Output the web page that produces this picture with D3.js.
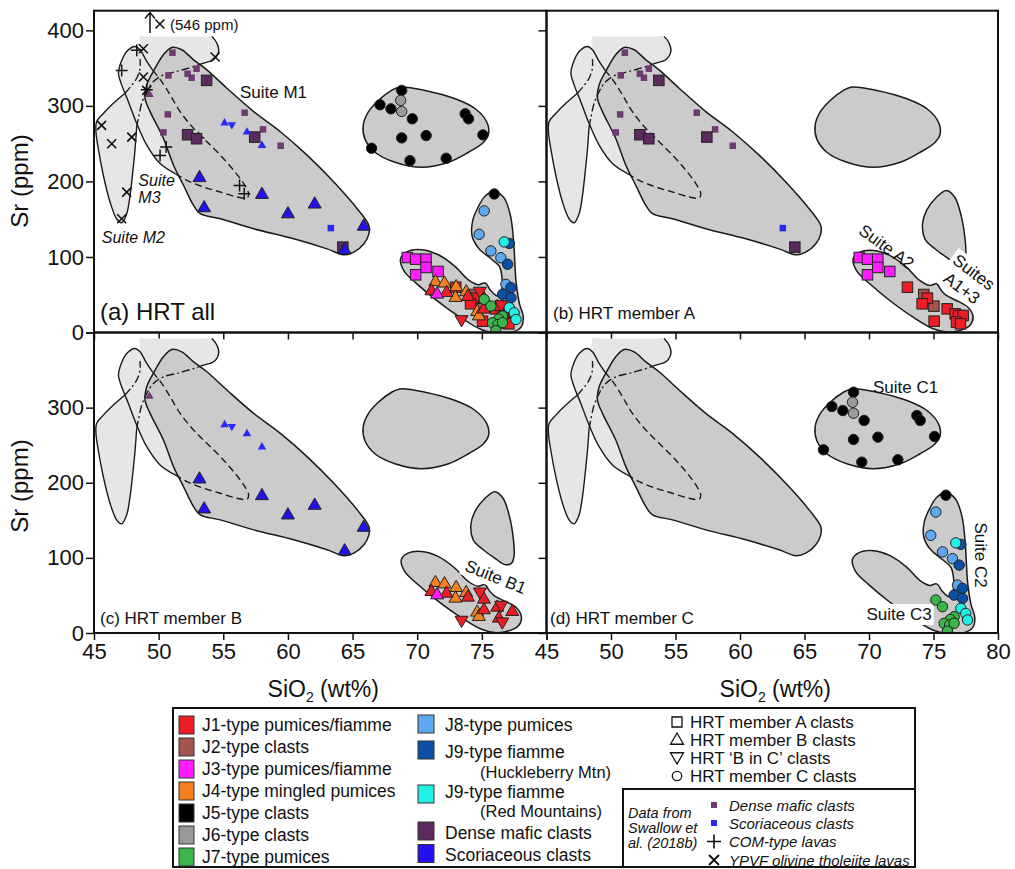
<!DOCTYPE html>
<html><head><meta charset="utf-8">
<script src="https://cdn.jsdelivr.net/npm/d3@7"></script>
<style>
body{margin:0;background:#fff}
svg{display:block}
text{font-family:"Liberation Sans",Arial,Helvetica,sans-serif;fill:#111}
</style>
</head><body>
<svg id="chart" width="1015" height="869"></svg>
<script>
// ---------------- DATA ----------------
const xTickValues = [45,50,55,60,65,70,75,80];
const yTickValues = [0,100,200,300,400];

// Fields (SiO2 wt%, Sr ppm)
const fieldM2 = [[45.20,279],[45.72,290],[46.50,303.4],[47.40,316.7],[47.84,325.6],[48.30,336.6],[48.56,350],[48.56,362],[48.56,380],[48.56,392],[49.0,392],[53.6,392],[54.12,392],[54.51,383],[54.64,372],[54.25,361],[53.47,356.6],[52.70,352],[51.41,345.6],[50.37,341],[49.60,332.2],[49.08,319],[48.69,303.4],[48.43,283.5],[48.30,270.2],[48.18,243.6],[48.00,212.6],[47.79,181.6],[47.53,157.3],[47.14,145.3],[46.75,150.6],[46.24,172.8],[45.72,208.2],[45.33,243.6],[45.15,265.8]];
const fieldM3 = [[48.18,378.7],[48.56,374.3],[49.08,358.8],[49.73,343.3],[50.24,332.2],[50.89,314.5],[51.66,292.4],[52.70,270.2],[53.73,252.5],[54.77,234.8],[55.80,214.8],[56.58,197.1],[56.96,183.8],[56.84,178.1],[56.06,179.4],[54.77,186],[53.47,192.7],[52.18,201.5],[51.28,210.4],[50.11,223.7],[49.08,248],[48.30,276.9],[47.66,305.6],[47.14,327.8],[46.89,343.3],[47.02,354.4],[47.53,372]];
const fieldM1 = [[51.02,377.4],[51.79,374.3],[52.70,361],[53.73,347.7],[55.28,323.4],[57.35,292.4],[59.42,265.8],[61.48,234.8],[63.55,199.3],[65.36,163.9],[66.26,141.7],[66.26,130.6],[65.88,117.4],[65.10,106.3],[64.33,102.8],[63.03,110.7],[60.45,124],[57.35,137.3],[54.77,150.6],[53.22,157.3],[52.70,168.3],[51.92,194.9],[51.15,221.5],[50.37,256.9],[49.34,292.4],[48.95,310],[49.08,327.8],[49.73,350],[50.37,367.7]];
const fieldC1 = [[68.67,324.9],[70.61,320.5],[72.94,309.4],[74.49,296.2],[75.39,278.4],[75.52,263],[75.13,251.9],[73.97,238.6],[72.42,225.3],[70.35,218.7],[68.28,225.3],[66.73,238.6],[65.95,256.3],[65.82,274],[66.21,291.7],[66.99,307.2],[68.02,320.5]];
const fieldAB = [[68.77,97.6],[69.29,106.4],[70.32,108.6],[71.61,102],[72.90,86.5],[73.93,68.9],[74.71,62.3],[75.23,64.5],[75.61,55.6],[76.0,49],[76.78,42.4],[77.68,33.5],[78.07,20.3],[77.81,9.3],[77.04,2.6],[76.0,0.6],[74.97,4.9],[73.42,20.3],[71.61,42.4],[70.06,64.5],[69.03,82]];
const tongueShort = [[76.0,188],[76.65,179],[77.17,152.7],[77.43,126],[77.5,104],[77.3,93],[76.78,91],[76.0,99.7],[75.1,110.8],[74.33,124],[74.15,144],[74.46,161.6],[75.23,179]];
const tongueLong = [[75.96,186],[76.65,178],[77.15,155],[77.4,120],[77.5,90],[77.6,65],[77.85,38],[78.15,20],[78.0,8],[77.4,1.5],[76.5,0.3],[75.95,2],[75.95,25],[76.3,45],[76.6,57],[76.6,75],[76.4,88],[75.7,99],[74.8,112],[74.3,128],[74.35,148],[74.75,165],[75.3,180]];

// Field boundary lines
const lineM2solidA = [[48.30,272],[48.18,243.6],[48.00,212.6],[47.79,181.6],[47.53,157.3],[47.14,145.3],[46.75,150.6],[46.24,172.8],[45.72,208.2],[45.33,243.6],[45.15,265.8],[45.20,279],[45.72,290],[46.50,303.4],[47.40,316.7]];
const lineM2solidB = [[53.2,355],[53.47,356.6],[54.25,361],[54.64,372],[54.51,383],[54.12,392]];
const lineM2dashdotA = [[48.30,272],[48.43,283.5],[48.69,303.4],[49.08,319],[49.60,332.2],[50.37,341],[51.41,345.6],[52.70,352],[53.2,355]];
const lineM2dashdotB = [[47.40,316.7],[47.84,325.6],[48.30,336.6],[48.56,350],[48.56,362]];
const lineM3solid = [[51.28,210.4],[50.11,223.7],[49.08,248],[48.30,276.9],[47.66,305.6],[47.14,327.8],[46.89,343.3],[47.02,354.4],[47.53,372],[48.18,378.7],[48.56,374.3],[49.08,358.8],[49.55,347]];
const lineM3dashed = [[49.55,347],[49.73,343.3],[50.24,332.2],[50.89,314.5],[51.66,292.4],[52.70,270.2],[53.73,252.5],[54.77,234.8],[55.80,214.8],[56.58,197.1],[56.96,183.8],[56.84,178.1],[56.06,179.4],[54.77,186],[53.47,192.7],[52.18,201.5],[51.28,210.4]];

// HRT member A clasts (squares)
const aJ1 = [[72.98,60],[74.53,45.5],[74.12,38],[75.05,15],[76.06,31.3],[76.68,24.7],[76.94,22.5],[77.30,22.5],[76.78,13.7],[77.09,11.5]];
const aJ2 = [[74.25,50.3],[75.03,34.9]];
const aJ3 = [[69.24,99.3],[69.88,97.1],[70.68,97.1],[70.68,86.1],[69.88,76.4],[71.61,80.8]];
const aDense = [[53.71,333.8],[52.24,261.8],[52.93,256.5],[57.43,258.7],[64.25,113]];
// Swallow et al. (2018b) small squares
const swDense = [[51.07,370.4],[50.76,340.4],[52.24,342.6],[52.55,337.3],[52.93,349.2],[50.71,288.7],[50.37,264.9],[56.65,291],[58.07,268.9],[59.44,247.2]];
const swScoria = [[63.32,138.2]];

// HRT member B clasts (triangles)
const bJ4 = [[71.41,66.9],[72.11,65.1],[73.01,60.2],[73.79,53.6],[72.96,46.1],[74.64,27.5],[74.77,21.7]];
const bJ1 = [[71.10,54.9],[72.27,52.7],[73.92,47.4],[75.16,44.7],[76.19,34.1],[77.35,28.3],[76.32,19.5],[75.16,30.6]];
const bJ3 = [[71.54,50.5]];
const bScoria = [[53.16,204.7],[53.52,164.8],[57.99,182.5],[60.00,156.8],[62.07,169.7],[65.86,140.4],[64.39,109]];
const smallTriDense = [[49.29,315]];
const smallTriScoria = [[55.10,277.3],[56.83,265.3],[57.99,247.6]];
const smallTriScoriaDown = [[55.66,275.1]];
// HRT 'B in C' clasts (down triangles)
const bcJ1 = [[74.85,54.9],[73.43,17.3],[76.50,37.2],[76.58,15.1]];

// HRT member C clasts (circles)
const cJ5 = [[68.80,320.5],[67.12,301.5],[67.97,296.1],[69.62,282.9],[73.71,289.5],[73.97,282.9],[70.69,260.7],[68.80,257.6],[75.08,261.6],[66.47,243.9],[69.44,227.5],[72.24,230.6],[75.96,183.4]];
const cJ6 = [[68.72,307.2],[68.80,292.6]];
const cJ8 = [[75.18,161],[74.79,130],[75.7,108],[76.47,99],[76.86,63.8]];
const cJ9H = [[77.12,118],[76.99,90.4],[77.25,59.4],[76.6,50.5],[77.25,46]];
const cJ9R = [[76.73,120],[77.12,32.8],[77.5,26],[77.64,17.3]];
const cJ7 = [[75.18,43.9],[75.7,35],[76.6,21.7],[76.3,18],[75.82,12.9],[76.25,10.6],[76.6,13],[76.08,2.5]];

// Swallow et al. lavas
const lavaCOM = [[47.14,347],[48.31,373.5],[49.08,321.4],[50.58,245.5],[50.11,234.4],[53.08,257.8],[56.26,194.7],[56.62,183.7]];
const lavaYPVF = [[45.59,274.2],[46.37,249.9],[47.92,258.7],[47.53,185.9],[47.14,150.6],[48.82,375.7],[48.82,338.2],[49.08,320.5],[54.37,364.7]];
const lavaOffscale = [[50.1,408.4]]; // 546 ppm sample

// Legend entries
const legendCol1 = ["J1-type pumices/fiamme","J2-type clasts","J3-type pumices/fiamme","J4-type mingled pumices","J5-type clasts","J6-type clasts","J7-type pumices"];
const legendCol2 = ["J8-type pumices","J9-type fiamme","J9-type fiamme","Dense mafic clasts","Scoriaceous clasts"];
const legendShapes = ["HRT member A clasts","HRT member B clasts","HRT \u2018B in C\u2019 clasts","HRT member C clasts"];
const legendSwallow = ["Dense mafic clasts","Scoriaceous clasts","COM-type lavas","YPVF olivine tholeiite lavas"];

// ---------------- STYLE ----------------
const COL = {J1:'#ee1c24',J2:'#a5534f',J3:'#ff1cff',J4:'#f5801f',J5:'#000000',J6:'#9a9a9a',J7:'#3bb54a',
  J8:'#5ea8f0',J9H:'#0b4fa6',J9R:'#22f0e6',Dense:'#5b2b5d',Scoria:'#2412ee',swDense:'#6e3b70',swScoria:'#2a28f4'};
const LIGHT = '#e6e6e6', DARK = '#cbcbcb', OUT = '#1a1a1a';
const FONT = '"Liberation Sans",Arial,Helvetica,sans-serif';

const svg = d3.select('#chart');
const defs = svg.append('defs');

const panels = [
  {key:'a', x0:94, x1:546.5, yTop:10.7, yBot:332.5, yMax:426},
  {key:'b', x0:546.5, x1:998, yTop:10.7, yBot:332.5, yMax:426},
  {key:'c', x0:94, x1:546.5, yTop:332.5, yBot:633, yMax:400},
  {key:'d', x0:546.5, x1:998, yTop:332.5, yBot:633, yMax:400}
];

panels.forEach(p => {
  p.x = d3.scaleLinear().domain([45,80]).range([p.x0,p.x1]);
  p.y = d3.scaleLinear().domain([0,p.yMax]).range([p.yBot,p.yTop]);
  defs.append('clipPath').attr('id','clip-'+p.key).append('rect')
    .attr('x',p.x0).attr('y',p.yTop).attr('width',p.x1-p.x0).attr('height',p.yBot-p.yTop);
  p.g = svg.append('g');
  p.body = p.g.append('g').attr('clip-path',`url(#clip-${p.key})`);
});

function closedPath(p, pts){
  return d3.line().x(d=>p.x(d[0])).y(d=>p.y(d[1])).curve(d3.curveCatmullRomClosed.alpha(0.5))(pts);
}
function openPath(p, pts){
  return d3.line().x(d=>p.x(d[0])).y(d=>p.y(d[1])).curve(d3.curveCatmullRom.alpha(0.5))(pts);
}

function drawLeftFields(p){
  const b = p.body;
  b.append('path').attr('d',closedPath(p,fieldM2)).attr('fill',LIGHT).attr('stroke','none');
  b.append('path').attr('d',closedPath(p,fieldM3)).attr('fill',LIGHT).attr('stroke','none');
  b.append('path').attr('d',closedPath(p,fieldM1)).attr('fill',DARK).attr('stroke',OUT).attr('stroke-width',1.5);
  const ln = (pts,dash) => b.append('path').attr('d',openPath(p,pts)).attr('fill','none')
    .attr('stroke',OUT).attr('stroke-width',1.4).attr('stroke-dasharray',dash||null);
  ln(lineM2solidA); ln(lineM2solidB);
  ln(lineM2dashdotA,'8,3,2,3'); ln(lineM2dashdotB,'8,3,2,3');
  ln(lineM3solid); ln(lineM3dashed,'7,4');
  b.append('path').attr('d',closedPath(p,fieldC1)).attr('fill',DARK).attr('stroke',OUT).attr('stroke-width',1.5);
}
function drawSeparate(p, polys){
  polys.forEach(pts => p.body.append('path').attr('d',closedPath(p,pts))
    .attr('fill',DARK).attr('stroke',OUT).attr('stroke-width',1.5));
}
function drawUnion(p, polys){
  polys.forEach(pts => p.body.append('path').attr('d',closedPath(p,pts))
    .attr('fill','none').attr('stroke',OUT).attr('stroke-width',3));
  polys.forEach(pts => p.body.append('path').attr('d',closedPath(p,pts))
    .attr('fill',DARK).attr('stroke','none'));
}

// ------- markers -------
function triPath(cx,cy,s,down){
  const h = s*0.866;
  if(!down) return `M${cx},${cy-2*h/3}L${cx-s/2},${cy+h/3}L${cx+s/2},${cy+h/3}Z`;
  return `M${cx},${cy+2*h/3}L${cx-s/2},${cy-h/3}L${cx+s/2},${cy-h/3}Z`;
}
function squares(p,data,fill,size,stroke){
  p.body.append('g').selectAll('rect').data(data).join('rect')
    .attr('x',d=>p.x(d[0])-size/2).attr('y',d=>p.y(d[1])-size/2)
    .attr('width',size).attr('height',size).attr('fill',fill)
    .attr('stroke',stroke?'#222':'none').attr('stroke-width',1);
}
function triangles(p,data,fill,size,down,stroke){
  p.body.append('g').selectAll('path').data(data).join('path')
    .attr('d',d=>triPath(p.x(d[0]),p.y(d[1]),size,down)).attr('fill',fill)
    .attr('stroke',stroke?'#222':'none').attr('stroke-width',1).attr('stroke-linejoin','round');
}
function circles(p,data,fill){
  p.body.append('g').selectAll('circle').data(data).join('circle')
    .attr('cx',d=>p.x(d[0])).attr('cy',d=>p.y(d[1])).attr('r',5.2)
    .attr('fill',fill).attr('stroke','#222').attr('stroke-width',1);
}
function plusses(p,data){
  p.body.append('g').selectAll('path').data(data).join('path')
    .attr('d',d=>{const cx=p.x(d[0]),cy=p.y(d[1]);return `M${cx-6},${cy}H${cx+6}M${cx},${cy-6}V${cy+6}`;})
    .attr('stroke','#111').attr('stroke-width',1.5).attr('fill','none');
}
function crosses(p,data){
  p.body.append('g').selectAll('path').data(data).join('path')
    .attr('d',d=>{const cx=p.x(d[0]),cy=p.y(d[1]);return `M${cx-4.5},${cy-4.5}L${cx+4.5},${cy+4.5}M${cx-4.5},${cy+4.5}L${cx+4.5},${cy-4.5}`;})
    .attr('stroke','#111').attr('stroke-width',1.6).attr('fill','none');
}

function memberA(p){
  squares(p,swDense,COL.swDense,6.5,false);
  squares(p,swScoria,COL.swScoria,6.5,false);
  squares(p,aDense,COL.Dense,10.5,true);
  squares(p,aJ3,COL.J3,10.5,true);
  squares(p,aJ2,COL.J2,10.5,true);
  squares(p,aJ1,COL.J1,10.5,true);
}
function memberB(p){
  triangles(p,smallTriDense,COL.swDense,8.5,false,false);
  triangles(p,smallTriScoria,COL.swScoria,8.5,false,false);
  triangles(p,smallTriScoriaDown,COL.swScoria,8.5,true,false);
  triangles(p,bScoria,COL.Scoria,13,false,true);
  triangles(p,bJ4,COL.J4,13,false,true);
  triangles(p,bJ1,COL.J1,13,false,true);
  triangles(p,bJ3,COL.J3,13,false,true);
  triangles(p,bcJ1,COL.J1,13,true,true);
}
function memberC(p){
  circles(p,cJ5,COL.J5); circles(p,cJ6,COL.J6); circles(p,cJ8,COL.J8);
  circles(p,cJ9H,COL.J9H); circles(p,cJ9R,COL.J9R); circles(p,cJ7,COL.J7);
}

// ------- text helpers -------
function label(g, x, y, txt, size, opts){
  opts = opts||{};
  const t = g.append('text').attr('x',x).attr('y',y).attr('font-size',size).text(txt)
    .attr('text-anchor',opts.anchor||'start');
  if(opts.italic) t.attr('font-style','italic');
  return t;
}
function boxLabel(g, cx, cy, angle, lines, size, pad){
  const grp = g.append('g').attr('transform',`translate(${cx},${cy}) rotate(${angle})`);
  const rect = grp.append('rect').attr('fill','#fff');
  const t = grp.append('text').attr('font-size',size).attr('text-anchor','middle');
  lines.forEach(l => t.append('tspan').attr('x',0).attr('y',l[1]).text(l[0]));
  if(pad !== null){
    const bb = t.node().getBBox();
    rect.attr('x',bb.x-pad).attr('y',bb.y-1).attr('width',bb.width+2*pad).attr('height',bb.height+2);
  }
  return grp;
}

// ------- PANELS -------
const [pa,pb,pc,pd] = panels;

// (a) all
drawLeftFields(pa);
drawUnion(pa,[fieldAB,tongueLong]);
label(pa.body, pa.x(56.29), pa.y(310.4), 'Suite M1', 17);
label(pa.body, pa.x(45.6), pa.y(118.5), 'Suite M2', 16, {italic:true});
label(pa.body, pa.x(48.43), pa.y(194.5), 'Suite', 16, {italic:true});
label(pa.body, pa.x(48.43), pa.y(171.4), 'M3', 16, {italic:true});
label(pa.body, pa.x(50.88), pa.y(400.5), '(546 ppm)', 15);
pa.body.append('path')
  .attr('d',`M${pa.x(49.33)},${pa.y(396.5)}V${pa.y(423.5)}M${pa.x(49.33)-5},${pa.y(423.5)+6}L${pa.x(49.33)},${pa.y(423.5)}L${pa.x(49.33)+5},${pa.y(423.5)+6}`)
  .attr('stroke','#111').attr('stroke-width',1.5).attr('fill','none');
crosses(pa,lavaOffscale);
plusses(pa,lavaCOM); crosses(pa,lavaYPVF);
memberA(pa); memberB(pa); memberC(pa);

// (b) member A
drawLeftFields(pb);
drawSeparate(pb,[fieldAB,tongueShort]);
boxLabel(pb.body, pb.x(71.37), pb.y(113.6), 36, [['Suite A2',6]], 17, null);
boxLabel(pb.body, pb.x(77.62), pb.y(68.4), 37, [['Suites',-5],['A1+3',15]], 17, 3);
memberA(pb);

// (c) member B
drawLeftFields(pc);
drawSeparate(pc,[fieldAB,tongueShort]);
boxLabel(pc.body, pc.x(76.07), pc.y(74.9), 22, [['Suite B1',6]], 17, 3);
memberB(pc);

// (d) member C
drawLeftFields(pd);
drawUnion(pd,[fieldAB,tongueLong]);
label(pd.body, pd.x(70.31), pd.y(319.4), 'Suite C1', 17);
pd.body.append('text').attr('transform',`translate(${pd.x(78.22)},${pd.y(103.8)}) rotate(90)`)
  .attr('text-anchor','middle').attr('font-size',17).text('Suite C2');
boxLabel(pd.body, pd.x(72.33), pd.y(17.3), 0, [['Suite C3',0]], 17, 2);
memberC(pd);

// panel labels
label(pa.g, 100, 320, '(a) HRT all', 24);
label(pb.g, 553, 319, '(b) HRT member A', 17);
label(pc.g, 100, 624, '(c) HRT member B', 17);
label(pd.g, 550, 624, '(d) HRT member C', 17);

// ------- AXES & BORDERS -------
panels.forEach(p => {
  const showY = (p.key==='a' || p.key==='c');
  const showX = (p.key==='c' || p.key==='d');
  const yAx = d3.axisLeft(p.y).tickValues(yTickValues.filter(v=>v<=p.yMax)).tickSize(8).tickPadding(2)
    .tickFormat(v => (showY && !(p.key==='c' && v===400)) ? String(v) : '');
  const xAx = d3.axisBottom(p.x).tickValues(xTickValues).tickSize(7).tickPadding(3)
    .tickFormat(v => (showX && !(p.key==='c' && v===80)) ? String(v) : '');
  const gy = p.g.append('g').attr('transform',`translate(${p.x0},0)`).call(yAx);
  const gx = p.g.append('g').attr('transform',`translate(0,${p.yBot})`).call(xAx);
  [gy,gx].forEach(ax => {
    ax.select('.domain').remove();
    ax.selectAll('line').attr('stroke','#111').attr('stroke-width',1.5);
    ax.selectAll('text').attr('font-size',22).attr('font-family',FONT).attr('fill','#111');
  });
  p.g.append('rect').attr('x',p.x0).attr('y',p.yTop).attr('width',p.x1-p.x0).attr('height',p.yBot-p.yTop)
    .attr('fill','none').attr('stroke','#111').attr('stroke-width',2);
});

// axis titles
[[pa,181],[pc,486]].forEach(([p,cy]) => {
  svg.append('text').attr('transform',`translate(28,${cy}) rotate(-90)`)
    .attr('text-anchor','middle').attr('font-size',24).text('Sr (ppm)');
});
[pc,pd].forEach(p => {
  const t = svg.append('text').attr('x',(p.x0+p.x1)/2 + 3).attr('y',697).attr('text-anchor','middle').attr('font-size',23);
  t.append('tspan').text('SiO');
  t.append('tspan').attr('font-size',14).attr('dy',5).text('2');
  t.append('tspan').attr('dy',-5).text(' (wt%)');
});

// ------- LEGEND -------
const lg = svg.append('g');
lg.append('rect').attr('x',173).attr('y',708).attr('width',742).attr('height',159)
  .attr('fill','#fff').attr('stroke','#111').attr('stroke-width',2);
lg.append('rect').attr('x',623).attr('y',789).attr('width',292).attr('height',78)
  .attr('fill','none').attr('stroke','#111').attr('stroke-width',2);

const col1Colors = [COL.J1,COL.J2,COL.J3,COL.J4,COL.J5,COL.J6,COL.J7];
legendCol1.forEach((t,i) => {
  const cy = 725 + i*22;
  lg.append('rect').attr('x',179).attr('y',cy-9).attr('width',15).attr('height',18)
    .attr('fill',col1Colors[i]).attr('stroke','#333').attr('stroke-width',1);
  label(lg, 202, cy+6, t, 17.5);
});
const col2 = [
  {t:legendCol2[0], c:COL.J8, sy:724, ty:725},
  {t:legendCol2[1], c:COL.J9H, sy:750, ty:752, sub:'(Huckleberry Mtn)', suby:772.5},
  {t:legendCol2[2], c:COL.J9R, sy:794, ty:792, sub:'(Red Mountains)', suby:812},
  {t:legendCol2[3], c:COL.Dense, sy:831, ty:833},
  {t:legendCol2[4], c:COL.Scoria, sy:853.5, ty:855}
];
col2.forEach(e => {
  lg.append('rect').attr('x',418).attr('y',e.sy-9).attr('width',16).attr('height',18)
    .attr('fill',e.c).attr('stroke','#333').attr('stroke-width',1);
  label(lg, 445, e.ty+6, e.t, 17.5);
  if(e.sub) label(lg, 480, e.suby+5, e.sub, 16.5);
});
// shape legend
const shapeRows = [722, 739.5, 757.5, 776];
legendShapes.forEach((t,i) => {
  const cy = shapeRows[i], cx = 677;
  let d;
  if(i===0) d = `M${cx-5},${cy-5}h10v10h-10Z`;
  else if(i===1) d = triPath(cx,cy+1,13,false);
  else if(i===2) d = triPath(cx,cy-1,13,true);
  else d = d3.symbol(d3.symbolCircle, 70)();
  const path = lg.append('path').attr('d',d).attr('fill','none').attr('stroke','#111').attr('stroke-width',1.3);
  if(i===3) path.attr('transform',`translate(${cx},${cy})`);
  label(lg, 690, cy+6, t, 17);
});
// Swallow data box
label(lg, 628, 818, 'Data from', 14.5, {italic:true});
label(lg, 628, 833, 'Swallow et', 14.5, {italic:true});
label(lg, 628, 848, 'al. (2018b)', 14.5, {italic:true});
const swRows = [805, 823, 841.5, 860];
lg.append('rect').attr('x',711).attr('y',swRows[0]-3).attr('width',6).attr('height',6).attr('fill',COL.swDense);
lg.append('rect').attr('x',711).attr('y',swRows[1]-3).attr('width',6).attr('height',6).attr('fill',COL.swScoria);
lg.append('path').attr('d',`M${707},${swRows[2]}H${721}M${714},${swRows[2]-7}V${swRows[2]+7}`).attr('stroke','#111').attr('stroke-width',1.6);
lg.append('path').attr('d',`M${709},${swRows[3]-5}L${719},${swRows[3]+5}M${709},${swRows[3]+5}L${719},${swRows[3]-5}`).attr('stroke','#111').attr('stroke-width',1.8);
legendSwallow.forEach((t,i) => label(lg, 729, swRows[i]+5.5, t, 15, {italic:true}));
</script>
</body></html>
